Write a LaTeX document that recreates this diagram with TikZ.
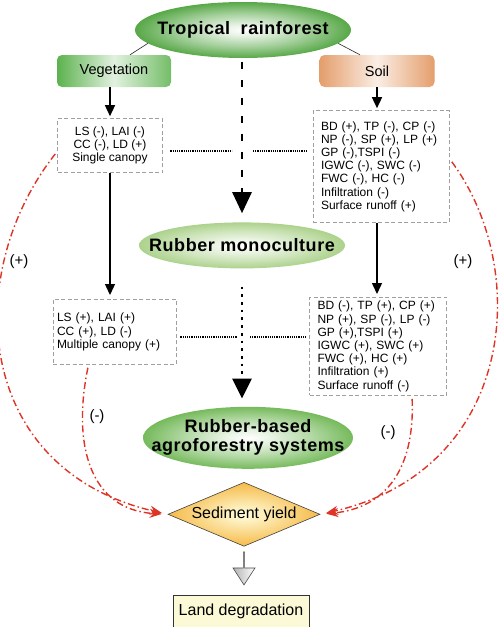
\documentclass[tikz,border=0pt]{standalone}
\usepackage{fontspec}
\setmainfont{Liberation Sans}
\newfontfamily\headfont[LetterSpace=3.0]{Liberation Sans}
\usetikzlibrary{shapes,arrows.meta,positioning,calc}

\definecolor{topgreen}{RGB}{88,168,72}
\definecolor{monogreen}{RGB}{172,210,140}
\definecolor{agrogreen}{RGB}{118,186,92}
\definecolor{veggreen}{RGB}{92,178,78}
\definecolor{soiltan}{RGB}{228,158,108}
\definecolor{rubyred}{RGB}{222,52,38}
\definecolor{sandyellow}{RGB}{246,186,72}
\definecolor{landyellow}{RGB}{252,250,214}

\pgfdeclareradialshading{topshade}{\pgfpoint{0bp}{0bp}}{color(0bp)=(white); color(5bp)=(white!85!topgreen);
    color(15bp)=(white!45!topgreen); color(25bp)=(topgreen); color(50bp)=(topgreen)}
\pgfdeclareradialshading{monoshade}{\pgfpoint{0bp}{0bp}}{color(0bp)=(white); color(5bp)=(white!85!monogreen);
    color(15bp)=(white!45!monogreen); color(25bp)=(monogreen); color(50bp)=(monogreen)}
\pgfdeclareradialshading{agroshade}{\pgfpoint{0bp}{0bp}}{color(0bp)=(white); color(5bp)=(white!85!agrogreen);
    color(15bp)=(white!45!agrogreen); color(25bp)=(agrogreen); color(50bp)=(agrogreen)}

\begin{document}
\begin{tikzpicture}[
    x=1pt, y=1pt,
    bubble/.style={ellipse, inner xsep=-50pt, inner ysep=-20pt, align=center,
        font=\headfont\bfseries\fontsize{18}{19}\selectfont},
    topbubble/.style={bubble, shading=topshade, minimum width=216pt, minimum height=56pt},
    monobubble/.style={bubble, shading=monoshade, minimum width=206pt, minimum height=46pt},
    agrobubble/.style={bubble, shading=agroshade, minimum width=210pt, minimum height=62pt},
    head/.style={rectangle, rounded corners=5pt, minimum height=32pt, font=\fontsize{14.5}{16}\selectfont},
    veghead/.style={head, minimum width=114pt, left color=veggreen, right color=veggreen!85, middle color=veggreen!18},
    soilhead/.style={head, minimum width=115pt, left color=soiltan, right color=soiltan, middle color=soiltan!18},
    notebox/.style={rectangle, draw=gray!75, line width=0.8pt, dash pattern=on 4pt off 2.5pt,
        font=\fontsize{12}{13.2}\selectfont},
    arrow/.style={-{Triangle[width=10pt,length=11pt]}, line width=1.4pt},
    bigdash/.style={-{Triangle[width=19pt,length=21pt]}, line width=2.7pt, dash pattern=on 7pt off 11pt},
    bigdot/.style={-{Triangle[width=19pt,length=20pt]}, line width=2.7pt, dash pattern=on 2.7pt off 5pt},
    dotline/.style={line width=1.1pt, dash pattern=on 1.1pt off 1.1pt},
    redarrow/.style={draw=rubyred, line width=1.4pt, dash pattern=on 7pt off 3pt on 1.5pt off 3pt,
        -{Stealth[length=12pt,width=9pt]}},
    tag/.style={font=\fontsize{15}{15}\selectfont},
    hollow/.style={single arrow, draw=gray!60!black, line width=0.6pt, left color=gray!60, right color=white,
        minimum height=33pt, minimum width=22pt, single arrow head extend=4.5pt,
        single arrow tip angle=66, inner sep=0pt, rotate=-90}
]
\useasboundingbox (0,0) rectangle (500,-627);

% Land use chain (middle)
\node[topbubble] (forest) at (243,-30) {Tropical\hspace{5pt} rainforest};
\node[monobubble, below=164pt of forest, xshift=-1pt] (mono) {Rubber monoculture};
\node[agrobubble, below=138pt of mono, xshift=6pt] (agro) {Rubber-based\\agroforestry systems};

% Vegetation column
\node[veghead] (veg) at (114,-71) {Vegetation};
\node[notebox, align=center, minimum width=105pt, minimum height=54pt, below=31pt of veg, xshift=-4pt] (vegtop)
    {LS (-), LAI (-)\\CC (-), LD (+)\\Single canopy};
\node[notebox, align=left, text width=115pt, inner xsep=4pt, minimum height=65pt, below=126pt of vegtop, xshift=4.5pt] (vegbot)
    {LS (+), LAI (+)\\CC (+), LD (-)\\Multiple canopy (+)};

% Soil column
\node[soilhead] (soil) at (377,-71) {Soil};
\node[notebox, align=left, text width=120pt, inner xsep=8pt, minimum height=112pt, below=23pt of soil, xshift=4pt] (soiltop)
    {BD (+), TP (-), CP (-)\\NP (-), SP (+), LP (+)\\GP (-),TSPI (-)\\IGWC (-), SWC (-)\\FWC (-), HC (-)\\Infiltration (-)\\Surface runoff (+)};
\node[notebox, align=left, text width=121pt, inner xsep=8pt, minimum height=98pt, below=74pt of soiltop, xshift=-3pt] (soilbot)
    {BD (-), TP (+), CP (+)\\NP (+), SP (-), LP (-)\\GP (+),TSPI (+)\\IGWC (+), SWC (+)\\FWC (+), HC (+)\\Infiltration (+)\\Surface runoff (-)};

% Outcome
\node[diamond, aspect=2.4, minimum width=152pt, minimum height=64pt, inner sep=0pt, shade,
      inner color=yellow!12, outer color=sandyellow, draw=gray!50!black, line width=0.6pt,
      font=\fontsize{16}{18}\selectfont, below=13pt of agro, xshift=-4pt] (sediment) {Sediment yield};
\node[hollow, below=5pt of sediment, anchor=west] (down) {};
\node[rectangle, draw=gray!40!black, line width=0.7pt, fill=landyellow, minimum width=136pt, minimum height=33pt,
      font=\fontsize{16}{18}\selectfont, below=48pt of sediment, xshift=-3pt] (land) {Land degradation};

% Links from the forest
\draw[gray!30!black, line width=0.6pt] ([xshift=16pt]veg.north) -- (forest.188);
\draw[gray!30!black, line width=0.6pt] (forest.-8) -- ([xshift=-17pt]soil.north);

% Solid arrows
\draw[arrow, shorten >=2pt] (vegtop.north |- veg.south) -- (vegtop.north);
\draw[arrow, shorten >=4pt] (vegtop.south) -- (vegtop.south |- vegbot.north);
\draw[arrow, shorten >=2pt] (soil.south) -- (soil.south |- soiltop.north);
\draw[arrow, shorten >=3pt] (soiltop.south -| soil.south) -- (soil.south |- soilbot.north);

% Middle arrows
\draw[bigdash, shorten <=4pt, shorten >=9pt] (forest.south -| mono.north) -- (mono.north);
\draw[bigdot, shorten <=18pt, shorten >=8pt] (mono) -- (mono |- agro.north);

% Dotted links
\coordinate (crossA) at (242,-151);
\coordinate (crossB) at (242,-337);
\draw[dotline, shorten <=7.5pt, shorten >=10pt] (vegtop.east |- crossA) -- (crossA);
\draw[dotline, shorten <=11pt, shorten >=5pt] (crossA) -- (crossA -| soiltop.west);
\draw[dotline, shorten <=4pt, shorten >=5pt] (vegbot.east |- crossB) -- (crossB);
\draw[dotline, shorten <=8pt, shorten >=2pt] (crossB) -- (crossB -| soilbot.west);

% Effects on sediment yield
\draw[redarrow, shorten <=3pt, shorten >=6pt] ([yshift=-6pt]vegtop.west) .. controls (-40,-275) and (-25,-470) .. (sediment.west);
\draw[redarrow, shorten <=3pt, shorten >=6pt] ([xshift=-26pt]vegbot.south) .. controls (72,-445) and (90,-510) .. (sediment.west);
\draw[redarrow, shorten <=4pt, shorten >=6pt] ([yshift=8pt]soiltop.east) .. controls (532,-270) and (515,-470) .. (sediment.east);
\draw[redarrow, shorten <=3pt, shorten >=6pt] ([xshift=34pt]soilbot.south) .. controls (415,-470) and (385,-508) .. (sediment.east);

\node[tag] (plusL) at (19,-262) {(+)};
\node[tag] (minusL) at (97,-417) {(-)};
\node[tag] (minusR) at (388,-433) {(-)};
\node[tag] (plusR) at (463,-262) {(+)};

\end{tikzpicture}
\end{document}
